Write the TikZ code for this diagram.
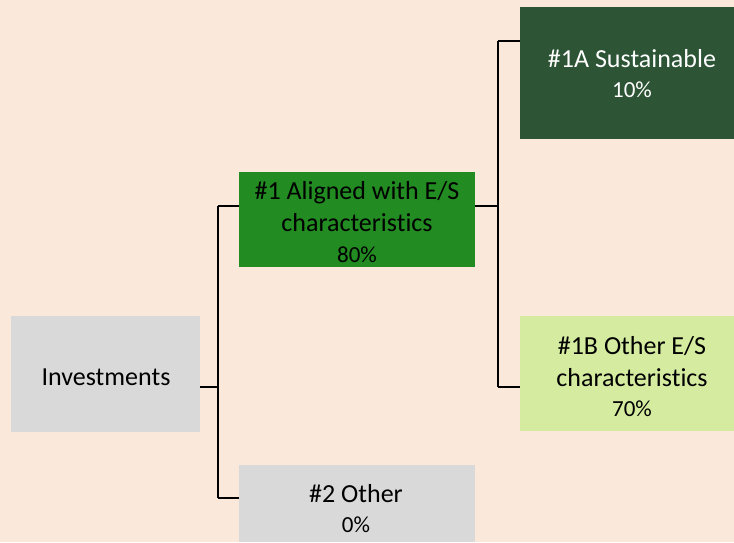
\documentclass[tikz,border=0pt]{standalone}
\usepackage{fontspec}
\setmainfont{Carlito}[Ligatures=NoCommon]
\definecolor{bgc}{RGB}{250,233,218}
\definecolor{greyc}{RGB}{217,217,217}
\definecolor{midgreen}{RGB}{34,139,34}
\definecolor{darkgreen}{RGB}{44,84,53}
\definecolor{lightgreen}{RGB}{212,235,160}
\newcommand{\pct}{\fontsize{23}{30}\selectfont}
\begin{document}
\begin{tikzpicture}[x=1pt,y=-1pt,
  boxstyle/.style={draw=none,inner sep=0pt,outer sep=0pt,rectangle},
  txt/.style={inner sep=0pt,align=center,font=\fontsize{26}{32}\selectfont},
  trunk/.style={line width=2.4pt,black},
  stub/.style={line width=1.5pt,black}]
\fill[bgc] (0,0) rectangle (734,542);
\useasboundingbox (0,0) rectangle (734,542);
% boxes
\node[boxstyle,fill=greyc,minimum width=189pt,minimum height=116pt] (inv) at (105.5,374) {};
\node[boxstyle,fill=midgreen,minimum width=236pt,minimum height=95pt] (b1) at (357,219.5) {};
\node[boxstyle,fill=greyc,minimum width=236pt,minimum height=77pt] (b2) at (357,503.5) {};
\node[boxstyle,fill=darkgreen,minimum width=214pt,minimum height=132pt] (b1a) at (627,73) {};
\node[boxstyle,fill=lightgreen,minimum width=214pt,minimum height=115pt] (b1b) at (627,373.5) {};
% texts
\node[txt,anchor=base] (tinv) at (106,385) {Investments};
\node[txt] (tb1) at (357,222) {\#1 Aligned with E/S\\characteristics\\[-1pt]{\pct 80\%}};
\node[txt] (tb2) at (356,509) {\#2 Other\\[-2pt]{\pct 0\%}};
\node[txt,text=white] (tb1a) at (632,74) {\#1A Sustainable\\[-2pt]{\pct 10\%}};
\node[txt] (tb1b) at (632,377) {\#1B Other E/S\\characteristics\\[-2pt]{\pct 70\%}};
% connectors
\coordinate (ja) at (218,387);
\coordinate (jatop) at (218,206);
\coordinate (jabot) at (218,498);
\draw[stub] (ja -| inv.east) -- (ja);
\draw[trunk] (jatop) -- (jabot);
\draw[stub] (jatop) -- (jatop -| b1.west);
\draw[stub] (jabot) -- (jabot -| b2.west);
\coordinate (jb) at (498,206);
\coordinate (jbtop) at (498,41);
\coordinate (jbbot) at (498,387);
\draw[stub] (jb -| b1.east) -- (jb);
\draw[trunk] (jbtop) -- (jbbot);
\draw[stub] (jbtop) -- (jbtop -| b1a.west);
\draw[stub] (jbbot) -- (jbbot -| b1b.west);
\end{tikzpicture}
\end{document}
